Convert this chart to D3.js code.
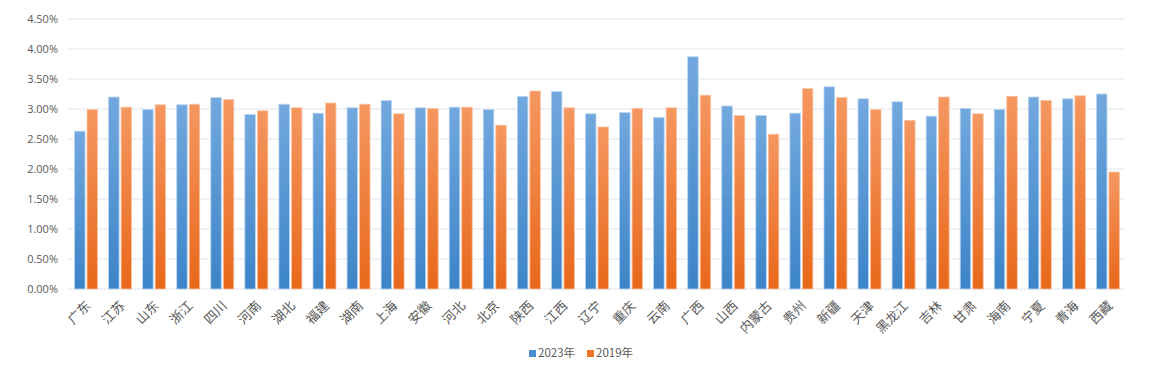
<!DOCTYPE html>
<html>
<head>
<meta charset="utf-8">
<script src="https://cdn.jsdelivr.net/npm/d3@7"></script>
<style>
  body { margin: 0; background: #fff; }
  text { font-family: "Noto Sans CJK SC", "Noto Sans", sans-serif; }
</style>
</head>
<body>
<div id="chart"></div>
<script>
const provinces = ["广东", "江苏", "山东", "浙江", "四川", "河南", "湖北", "福建", "湖南", "上海",
  "安徽", "河北", "北京", "陕西", "江西", "辽宁", "重庆", "云南", "广西", "山西", "内蒙古",
  "贵州", "新疆", "天津", "黑龙江", "吉林", "甘肃", "海南", "宁夏", "青海", "西藏"]
const values2023 = [2.63, 3.20, 2.99, 3.07, 3.19, 2.91, 3.08, 2.93, 3.02, 3.14,
  3.02, 3.03, 2.99, 3.21, 3.29, 2.92, 2.94, 2.86, 3.87, 3.05, 2.89,
  2.93, 3.37, 3.17, 3.12, 2.88, 3.01, 2.99, 3.20, 3.17, 3.25]
const values2019 = [2.99, 3.03, 3.07, 3.08, 3.16, 2.97, 3.02, 3.10, 3.08, 2.92,
  3.01, 3.03, 2.73, 3.30, 3.02, 2.70, 3.01, 3.02, 3.23, 2.89, 2.58,
  3.34, 3.19, 2.99, 2.81, 3.20, 2.92, 3.21, 3.14, 3.22, 1.95]
const seriesNames = ["2023年", "2019年"]
const yTicks = [0, 0.5, 1, 1.5, 2, 2.5, 3, 3.5, 4, 4.5]

const W = 1155, H = 391
const margin = { top: 19, right: 30, bottom: 102, left: 69 }

const svg = d3.select("#chart").append("svg")
  .attr("width", W).attr("height", H)

const defs = svg.append("defs")
const grads = [["gBlue", "#72a8de", "#3c84c8"], ["gOrange", "#f59761", "#e8681a"]]
grads.forEach(([id, c1, c2]) => {
  const g = defs.append("linearGradient").attr("id", id)
    .attr("x1", 0).attr("y1", 0).attr("x2", 0).attr("y2", 1)
  g.append("stop").attr("offset", "0%").attr("stop-color", c1)
  g.append("stop").attr("offset", "100%").attr("stop-color", c2)
})

const x = d3.scaleBand().domain(provinces)
  .range([margin.left, W - margin.right]).padding(0)
const y = d3.scaleLinear().domain([0, 4.5]).range([H - margin.bottom, margin.top])

// gridlines
svg.append("g").selectAll("line").data(yTicks).join("line")
  .attr("x1", margin.left).attr("x2", W - margin.right)
  .attr("y1", d => y(d)).attr("y2", d => y(d))
  .attr("stroke", "#eceef4").attr("stroke-width", 1.5)

// y labels
const yAxis = d3.axisLeft(y).tickValues(yTicks).tickSize(0).tickPadding(11)
  .tickFormat(d => d.toFixed(2) + "%")
svg.append("g").attr("transform", `translate(${margin.left},0)`).call(yAxis)
  .call(g => g.select(".domain").remove())
  .selectAll("text").attr("fill", "#595959").attr("font-size", 11)
  .style("font-family", "'Open Sans', 'Noto Sans', sans-serif")

const barW = 10.5, gap = 2
const series = [values2023, values2019]
series.forEach((vals, si) => {
  svg.append("g").selectAll("rect").data(vals).join("rect")
    .attr("x", (d, i) => x(provinces[i]) + x.bandwidth() / 2 + (si === 0 ? -barW - gap / 2 : gap / 2))
    .attr("y", d => y(d))
    .attr("width", barW)
    .attr("height", d => y(0) - y(d))
    .attr("fill", si === 0 ? "url(#gBlue)" : "url(#gOrange)")
    .attr("stroke", si === 0 ? "#b9d4f0" : "#f9c4a4")
    .attr("stroke-width", 0.8)
})

// x labels
svg.append("g").selectAll("text").data(provinces).join("text")
  .attr("transform", d => `translate(${x(d) + x.bandwidth() / 2 + 3},${y(0) + 15}) rotate(-45)`)
  .attr("text-anchor", "end")
  .attr("dominant-baseline", "middle")
  .attr("fill", "#595959")
  .attr("font-size", 13)
  .text(d => d)

// legend
const legend = svg.append("g").attr("transform", "translate(529,354)")
const legendColors = ["#4a8fd2", "#ee7427"]
const legendX = [0, 58]
seriesNames.forEach((name, i) => {
  legend.append("rect").attr("x", legendX[i]).attr("y", -4).attr("width", 7).attr("height", 7)
    .attr("fill", legendColors[i])
  legend.append("text").attr("x", legendX[i] + 9).attr("y", 0)
    .attr("dominant-baseline", "middle")
    .attr("fill", "#595959").attr("font-size", 11.5)
    .text(name)
})
</script>
</body>
</html>
